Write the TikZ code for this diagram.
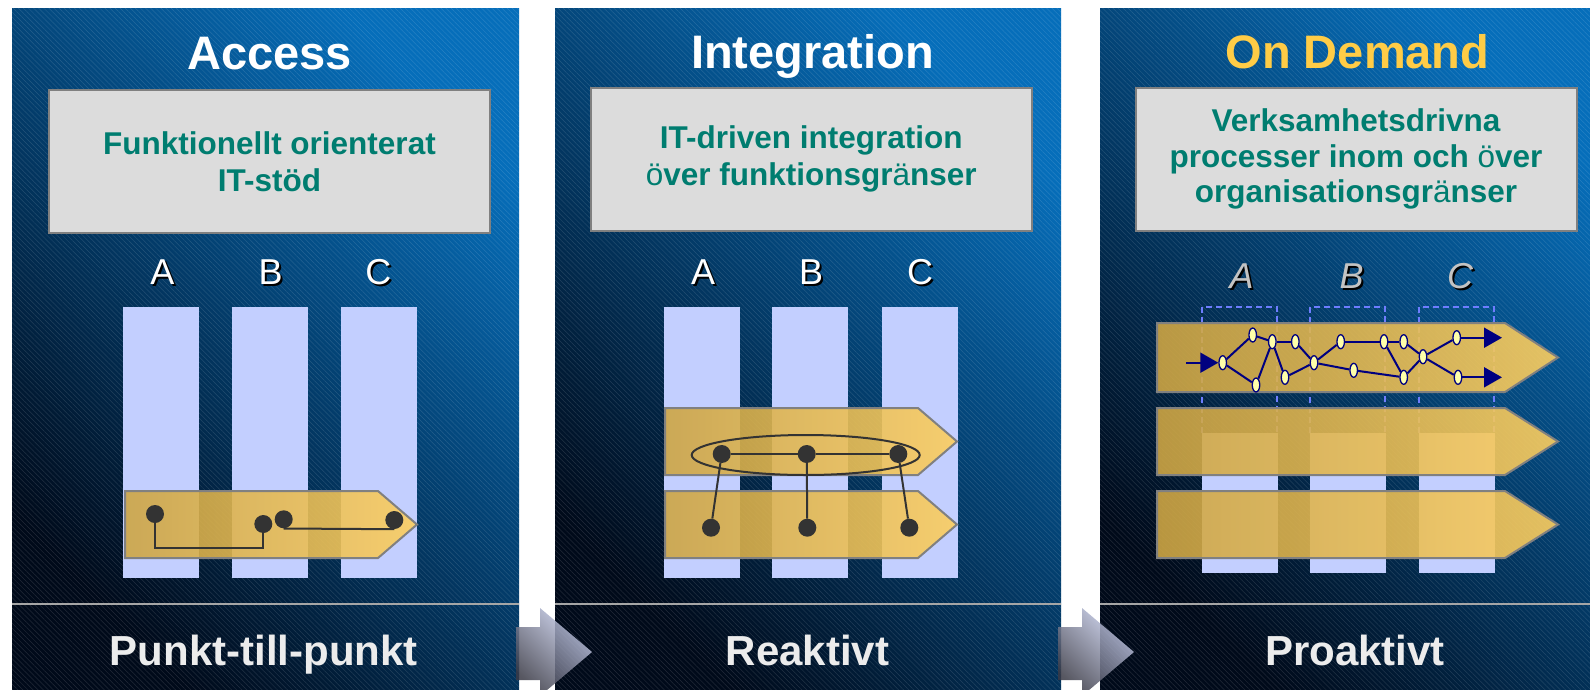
\documentclass[tikz,border=0pt]{standalone}
\usepackage{fontspec}
\setmainfont{Liberation Sans}
\usetikzlibrary{shapes.geometric,arrows.meta,patterns.meta}
\definecolor{panelTop}{RGB}{6,110,186}
\definecolor{panelMid}{RGB}{3,72,128}
\definecolor{panelBot}{RGB}{0,10,26}
\definecolor{colfill}{RGB}{195,207,255}
\definecolor{boxfill}{RGB}{220,220,220}
\definecolor{boxline}{RGB}{128,128,128}
\definecolor{tealtext}{RGB}{0,125,112}
\definecolor{odyellow}{RGB}{255,204,70}
\definecolor{goldL}{RGB}{205,165,68}
\definecolor{goldR}{RGB}{252,206,96}
\definecolor{dotgray}{RGB}{51,51,51}
\definecolor{netnavy}{RGB}{0,0,128}
\definecolor{netfill}{RGB}{255,255,170}
\definecolor{dashblue}{RGB}{110,125,255}
\definecolor{lettergray}{RGB}{195,195,195}
\definecolor{bottomtext}{RGB}{236,236,236}
\definecolor{arrLight}{RGB}{205,212,242}
\definecolor{arrDark}{RGB}{58,58,70}
\begin{document}
\begin{tikzpicture}[x=1pt,y=-1pt,
  paneltitle/.style={anchor=base,text=white,font=\fontsize{47}{56}\selectfont\bfseries,inner sep=0},
  infobox/.style={draw=boxline,fill=boxfill,line width=2pt,minimum width=441pt,minimum height=143pt,inner sep=0,align=center,text=tealtext,font=\fontsize{31.5}{37}\selectfont\bfseries},
  letter/.style={anchor=base,text=white,font=\fontsize{36}{40}\selectfont,inner sep=0},
  lettershadow/.style={anchor=base,text=black,font=\fontsize{36}{40}\selectfont,inner sep=0},
  iletter/.style={anchor=base,text=lettergray,font=\fontsize{36}{40}\selectfont\itshape,inner sep=0},
  ilettershadow/.style={anchor=base,text=black,font=\fontsize{36}{40}\selectfont\itshape,inner sep=0},
  bottomlabel/.style={anchor=base,text=bottomtext,font=\fontsize{42}{48}\selectfont\bfseries,inner sep=0},
  column/.style={fill=colfill},
  dashcol/.style={draw=dashblue,line width=1.8pt,dash pattern=on 6pt off 4pt},
  goldarrow/.style={left color=goldL,right color=goldR,fill opacity=0.9,draw=boxline,draw opacity=1,line width=2pt,line join=miter},
  blackdot/.style={circle,fill=dotgray,minimum size=18pt,inner sep=0},
  wire/.style={draw=dotgray,line width=2pt},
  pnode/.style={ellipse,draw=netnavy,fill=netfill,line width=1.3pt,minimum width=7.5pt,minimum height=14pt,inner sep=0},
  netedge/.style={draw=netnavy,line width=2pt},
  netarrow/.style={draw=netnavy,line width=2pt,-{Triangle[length=18pt,width=20pt]}},
  sepline/.style={draw=gray!70,line width=2pt},
  flowarrow/.style={top color=arrLight,bottom color=arrDark,shading angle=-45,fill opacity=0.85}
]
\useasboundingbox (0,0) rectangle (1590,689);
\clip (0,0) rectangle (1590,689);
\fill[white] (0,0) rectangle (1590,689);

% panels
\foreach \x/\w in {12/507,555/506,1100/507}{
  \shade[top color=panelTop,middle color=panelMid,bottom color=panelBot,shading angle=-45] (\x,8) rectangle ++(\w,681);
  \begin{scope}[transparency group,opacity=0.13]
    \fill[pattern={Lines[angle=-45,distance=3.6pt,line width=0.5pt]},pattern color=white] (\x,8) rectangle ++(\w,681);
  \end{scope}
}
\draw[sepline] (12,604) -- (519,604);
\draw[sepline] (555,604) -- (1061,604);
\draw[sepline] (1100,604) -- (1590,604);

% titles
\node[paneltitle] (t1) at (269.6,69) {Access};
\node[paneltitle] (t2) at (812.5,68.3) {Integration};
\node[paneltitle,text=odyellow] (t3) at (1357.5,68.3) {On Demand};

% info boxes
\node[infobox] (b1) at (269.5,161.5) {Funktionellt orienterat\\IT-stöd};
\node[infobox] (b2) at (811.2,159.3) {IT-driven integration\\{\mdseries ö}ver funktionsgr{\mdseries ä}nser};
\node[infobox,font=\fontsize{31.5}{35.7}\selectfont\bfseries] (b3) at (1356,159) {Verksamhetsdrivna\\processer inom och {\mdseries ö}ver\\organisationsgr{\mdseries ä}nser};

% letters panel 1 and 2
\foreach \x/\l/\n in {162.3/A/a,270.7/B/b,378.3/C/c}{
  \node[lettershadow] (s1\n) at (\x+2,286.3) {\l};
  \node[letter] (l1\n) at (\x,284.3) {\l};
}
\foreach \x/\l/\n in {703/A/a,811/B/b,920/C/c}{
  \node[lettershadow] (s2\n) at (\x+2,286.3) {\l};
  \node[letter] (l2\n) at (\x,284.3) {\l};
}
\foreach \x/\l/\n in {1241.7/A/a,1351.7/B/b,1460/C/c}{
  \node[ilettershadow] (s3\n) at (\x+2,290.3) {\l};
  \node[iletter] (l3\n) at (\x,288.3) {\l};
}

% columns
\foreach \x in {123,232,341}{ \fill[column] (\x,307) rectangle ++(76,271); }
\foreach \x in {664,772,882}{ \fill[column] (\x,307) rectangle ++(76,271); }
\foreach \x in {1202,1310,1419}{
  \fill[column] (\x,433) rectangle ++(76,140);
  \draw[dashcol] (\x,433) -- (\x,307) -- ++(75,0) -- (\x+75,433);
}

% gold arrows
\foreach \xa/\xb/\xc/\ya/\yb in {125/378/417/491/558, 665/918/957/408/475, 665/918/957/491/558, 1157/1505/1558/323/392, 1157/1505/1558/408/475, 1157/1505/1558/491/558}{
  \path[goldarrow] (\xa,\ya) -- (\xb,\ya) -- (\xc,{(\ya+\yb)/2}) -- (\xb,\yb) -- (\xa,\yb) -- cycle;
}

% panel 1 point-to-point
\node[blackdot] (p1a) at (155,514) {};
\node[blackdot] (p1b) at (263.3,524) {};
\node[blackdot] (p1c) at (283.7,519.3) {};
\node[blackdot] (p1d) at (394.3,520) {};
\draw[wire] (p1a.south) -- ++(0,25) -| (p1b.south);
\draw[wire] (p1c.south) -- (p1d.south);

% panel 2 integration
\node[ellipse,draw=dotgray,line width=2pt,minimum width=228pt,minimum height=40pt,inner sep=0] (e2) at (805.7,455) {};
\node[blackdot] (q1) at (721.7,454) {};
\node[blackdot] (q2) at (806.7,454) {};
\node[blackdot] (q3) at (898.3,454) {};
\node[blackdot] (r1) at (711,527.7) {};
\node[blackdot] (r2) at (807.3,527.7) {};
\node[blackdot] (r3) at (909.3,527.7) {};
\draw[wire] (q1) -- (q2);
\draw[wire] (q2) -- (q3);
\draw[wire] (q1) -- (r1);
\draw[wire] (q2) -- (r2);
\draw[wire] (q3) -- (r3);

% panel 3 process network
\node[pnode] (n1) at (1222.7,362.7) {};
\node[pnode] (n2) at (1252.7,335) {};
\node[pnode] (n3) at (1256,385) {};
\node[pnode] (n4) at (1272.3,341.7) {};
\node[pnode] (n5) at (1295.3,341.7) {};
\node[pnode] (n6) at (1285,377.3) {};
\node[pnode] (n7) at (1314,362.7) {};
\node[pnode] (n8) at (1340.7,341.7) {};
\node[pnode] (n9) at (1353.7,370.3) {};
\node[pnode] (n10) at (1384,341.7) {};
\node[pnode] (n11) at (1403.7,341.7) {};
\node[pnode] (n12) at (1403.7,377.3) {};
\node[pnode] (n13) at (1423,356.7) {};
\node[pnode] (n14) at (1456.7,337.7) {};
\node[pnode] (n15) at (1458,377.3) {};
\foreach \a/\b in {n1/n2,n1/n3,n2/n4,n3/n4,n4/n5,n4/n6,n5/n7,n6/n7,n7/n8,n7/n9,n9/n12,n8/n10,n10/n11,n10/n12,n11/n13,n12/n13,n13/n14,n13/n15}{
  \draw[netedge] (\a) -- (\b);
}
\coordinate (inStart) at (1186,362.7);
\coordinate (out1) at (1502,337.7);
\coordinate (out2) at (1502,377.3);
\draw[netarrow] (inStart) -- (n1);
\draw[netarrow] (n14) -- (out1);
\draw[netarrow] (n15) -- (out2);

% bottom labels
\node[bottomlabel] (bl1) at (263.8,665.7) {Punkt-till-punkt};
\node[bottomlabel] (bl2) at (807.5,665.7) {Reaktivt};
\node[bottomlabel] (bl3) at (1355,665.7) {Proaktivt};

% arrows between panels
\foreach \dx in {0,542}{
  \path[flowarrow] (516+\dx,627) -- (540+\dx,627) -- (540+\dx,608) -- (592+\dx,652) -- (540+\dx,696) -- (540+\dx,680) -- (516+\dx,680) -- cycle;
}
\end{tikzpicture}
\end{document}
